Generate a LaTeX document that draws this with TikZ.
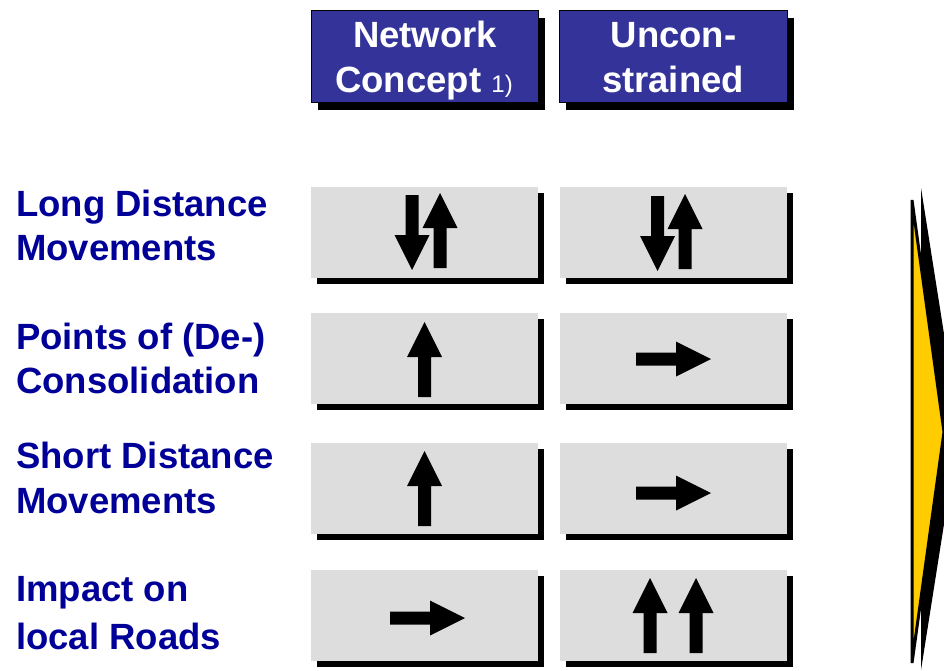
\documentclass[tikz,border=0pt]{standalone}
\usepackage{fontspec}
\setmainfont{Liberation Sans}
\newfontfamily\labfont{Liberation Sans}
\usetikzlibrary{shadows}
\definecolor{hdrblue}{RGB}{51,51,153}
\definecolor{labblue}{RGB}{0,0,153}
\definecolor{boxgray}{RGB}{221,221,221}
\definecolor{chevyellow}{RGB}{255,204,0}
\tikzset{
  hdrbox/.style={draw=black, line width=1pt, fill=hdrblue, minimum height=92pt, inner sep=0pt,
    drop shadow={shadow xshift=7pt, shadow yshift=-8pt, fill=black, opacity=1}},
  graybox/.style={fill=boxgray, minimum width=227pt, minimum height=91pt, inner sep=0pt,
    drop shadow={shadow xshift=6pt, shadow yshift=-6pt, fill=black, opacity=1}},
  hdrtext/.style={anchor=base, inner sep=0pt, text=white, font=\labfont\bfseries\fontsize{36.5}{40}\selectfont},
  labtext/.style={anchor=base west, inner sep=0pt, text=labblue, font=\labfont\bfseries\fontsize{36.5}{40}\selectfont},
  bigarrow/.pic={\fill[black] (0,-6.5) -- (40,-6.5) -- (40,-17.5) -- (75,0) -- (40,17.5) -- (40,6.5) -- (0,6.5) -- cycle;}
}
\begin{document}
\begin{tikzpicture}[x=1pt,y=-1pt]
\clip (0,0) rectangle (944,670);
\fill[white] (0,0) rectangle (944,670);
% header boxes
\node[hdrbox, minimum width=227pt] (h1) at (424.5,56) {};
\node[hdrbox, minimum width=228pt] (h2) at (673,56) {};
\node[hdrtext] (h1a) at (425,47) {Network};
\node[hdrtext] (h1b) at (424,92) {Concept {\mdseries\fontsize{24}{28}\selectfont 1)}};
\node[hdrtext] (h2a) at (673.5,47) {Uncon-};
\node[hdrtext] (h2b) at (673,92) {strained};
% gray boxes
\foreach \r/\y in {1/232.5,2/358,3/488,4/615}{
  \node[graybox] (b\r1) at (424.5,\y) {};
  \node[graybox] (b\r2) at (673.5,\y) {};
}
% row labels
\node[labtext] (l1a) at (16,216) {Long Distance};
\node[labtext] (l1b) at (16,260) {Movements};
\node[labtext] (l2a) at (16,349) {Points of (De-)};
\node[labtext] (l2b) at (16,393) {Consolidation};
\node[labtext] (l3a) at (16,468) {Short Distance};
\node[labtext] (l3b) at (16,513) {Movements};
\node[labtext] (l4a) at (16,601) {Impact on};
\node[labtext] (l4b) at (16,649) {local Roads};
% arrows
\pic[rotate=-90] at (412,195) {bigarrow};
\pic[rotate=90] at (440,268) {bigarrow};
\pic[rotate=-90] at (657.5,196) {bigarrow};
\pic[rotate=90] at (685,269) {bigarrow};
\pic[rotate=90] at (424.5,397) {bigarrow};
\pic at (636,359) {bigarrow};
\pic[rotate=90] at (424.5,526) {bigarrow};
\pic at (636,493) {bigarrow};
\pic at (390,618) {bigarrow};
\pic[rotate=90] at (650,653) {bigarrow};
\pic[rotate=90] at (696,653) {bigarrow};
% chevron
\fill[black] (921,188) -- (959,429) -- (921,670) -- cycle;
\filldraw[fill=chevyellow, draw=black, line width=3pt, line join=bevel] (912,200) -- (944,432) -- (912,663) -- cycle;
\end{tikzpicture}
\end{document}
